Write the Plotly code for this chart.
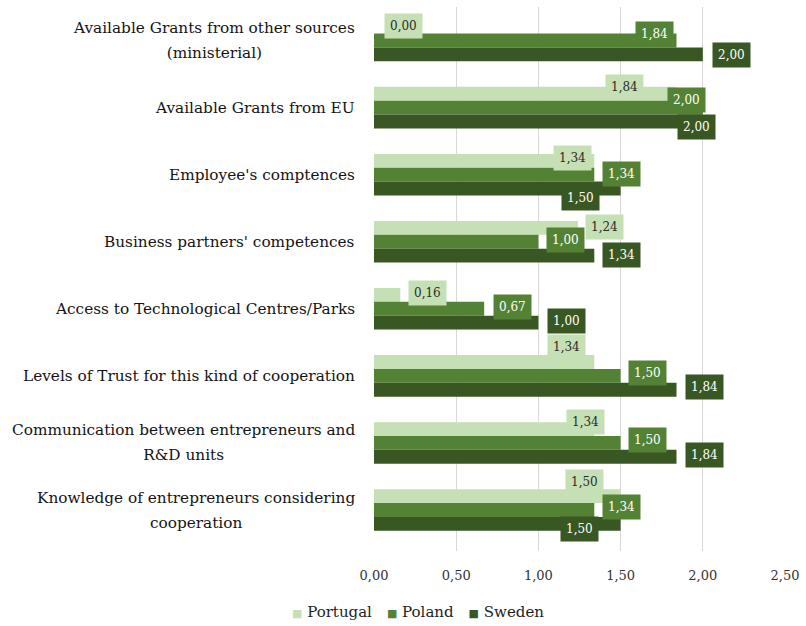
import plotly.graph_objects as go

# Factors influencing cooperation between entrepreneurs and R&D units
categories = [
    "Available Grants from other sources<br>(ministerial)",
    "Available Grants from EU",
    "Employee's comptences",
    "Business partners' competences",
    "Access to Technological Centres/Parks",
    "Levels of Trust for this kind of cooperation",
    "Communication between entrepreneurs and<br>R&D units",
    "Knowledge of entrepreneurs considering<br>cooperation",
]
portugal = [0.00, 1.84, 1.34, 1.24, 0.16, 1.34, 1.34, 1.50]
poland = [1.84, 2.00, 1.34, 1.00, 0.67, 1.50, 1.50, 1.34]
sweden = [2.00, 2.00, 1.50, 1.34, 1.00, 1.84, 1.84, 1.50]

series_names = ["Portugal", "Poland", "Sweden"]
series_values = [portugal, poland, sweden]
x_ticks = [0.0, 0.5, 1.0, 1.5, 2.0, 2.5]

# styling
colors = ["#c5e0b4", "#548235", "#385723"]
label_font_colors = ["#2b2b2b", "#ffffff", "#ffffff"]
FONT = "DejaVu Serif"
BAR_OFFSET = [-14, 0, 14]  # vertical pixel offset of each series within a group

# pixel nudges (dx right, dy down) for the value boxes, per series and category
label_dx = [
    [29, -52, -22, 27, 27, -28, -9, -36],
    [-22, -16, 27, 27, 28, 27, 27, 27],
    [29, -6, -40, 27, 28, 28, 28, -41],
]
label_dy = [
    [-1, -7, -3, -1, -2, -15, -7, -14],
    [-7, -8, -1, -2, -2, -3, -3, -3],
    [0, 5, 9, -1, -2, -3, -2, 5],
]


def fmt(v):
    return f"{v:.2f}".replace(".", ",")


fig = go.Figure()
for name, vals, col in zip(series_names, series_values, colors):
    fig.add_trace(go.Bar(
        name=name, y=categories, x=vals, orientation="h",
        marker=dict(color=col, line=dict(width=0)),
        hoverinfo="x+name",
    ))

annotations = []
for s, (vals, col, fcol) in enumerate(zip(series_values, colors, label_font_colors)):
    for i, (cat, v) in enumerate(zip(categories, vals)):
        annotations.append(dict(
            x=v, y=cat, xref="x", yref="y",
            text=fmt(v), showarrow=False,
            xanchor="center", yanchor="middle",
            xshift=label_dx[s][i],
            yshift=-(BAR_OFFSET[s] + label_dy[s][i]),
            bgcolor=col, borderpad=5,
            font=dict(family=FONT, size=12, color=fcol),
        ))

# category labels, centred line by line with a loose line pitch
for cat in categories:
    lines = cat.split("<br>")
    text = "<br>".join(f"<span style='font-size:15.3px'>{ln}</span>" for ln in lines)
    annotations.append(dict(
        x=0, y=cat, xref="paper", yref="y",
        text=text, showarrow=False, xanchor="right", yanchor="middle",
        align="center", xshift=-17,
        font=dict(family=FONT, size=19, color="#141414"),
    ))

# legend row: coloured squares followed by the series names
legend_parts = []
for name, col in zip(series_names, colors):
    legend_parts.append(
        f"<span style='font-size:11px;color:{col}'>■</span> {name}"
    )
annotations.append(dict(
    x=0.106, y=-0.112, xref="paper", yref="paper",
    text="\u2003".join(legend_parts), showarrow=False,
    xanchor="center", yanchor="middle",
    font=dict(family=FONT, size=15, color="#1e1e1e"),
))

fig.update_layout(
    width=806, height=626,
    margin=dict(l=374, r=17, t=7, b=75),
    paper_bgcolor="white", plot_bgcolor="white",
    barmode="group", bargap=0.38, bargroupgap=0,
    separators=",.",
    annotations=annotations,
    font=dict(family=FONT, color="#333333"),
    showlegend=False,
)
fig.update_xaxes(
    range=[0, 2.5], tickvals=x_ticks, ticktext=[fmt(t) for t in x_ticks],
    showgrid=True, gridcolor="#d9d9d9", gridwidth=1,
    zeroline=False, showline=False,
    ticks="outside", ticklen=12, tickcolor="rgba(0,0,0,0)",
    tickfont=dict(family=FONT, size=13, color="#333333"),
)
fig.update_yaxes(
    autorange="reversed", showticklabels=False, showgrid=False,
    zeroline=False, showline=False,
)

fig.write_html("out.html")
